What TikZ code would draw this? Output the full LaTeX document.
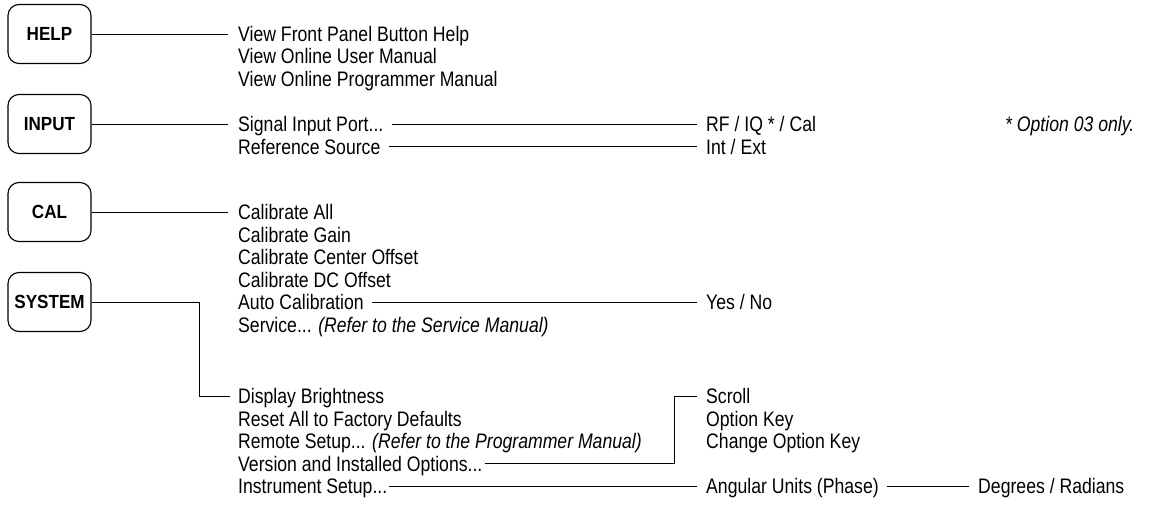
\documentclass[tikz,border=0pt]{standalone}
\usepackage{fontspec}
\setmainfont{Liberation Sans}[FakeStretch=0.84]
\newfontfamily\keyfam{Liberation Sans}[FakeStretch=0.9]
\usetikzlibrary{calc}
\begin{document}
\begin{tikzpicture}[x=1pt,y=-1pt,
  key/.style={draw, line width=1.1pt, rounded corners=11pt, minimum width=83pt,
    minimum height=59pt, inner sep=0pt, font=\keyfam\bfseries\fontsize{19}{20}\selectfont},
  item/.style={anchor=base west, inner sep=0pt, font=\fontsize{21}{22}\selectfont},
  conn/.style={line width=0.9pt}]
\useasboundingbox (0,0) rectangle (1155,508);
% keys
\node[key] (help) at (49.5,34) {HELP};
\node[key] (input) at (49.5,124) {INPUT};
\node[key] (cal) at (49.5,212) {CAL};
\node[key] (system) at (49.5,302) {SYSTEM};
% help items
\node[item] (h1) at (238,34+7.5) {View Front Panel Button Help};
\node[item] (h2) at (238,56.5+7.5) {View Online User Manual};
\node[item] (h3) at (238,79+7.5) {View Online Programmer Manual};
% input items
\node[item] (sip) at (238,124+7.5) {Signal Input Port...};
\node[item] (ref) at (238,146.5+7.5) {Reference Source};
\node[item] (rf) at (706,124+7.5) {RF / IQ * / Cal};
\node[item] (ie) at (706,146.5+7.5) {Int / Ext};
\node[item] (note) at (1005,124+7.5) {\itshape * Option 03 only.};
% cal items
\node[item] (c1) at (238,212+7.5) {Calibrate All};
\node[item] (c2) at (238,234.5+7.5) {Calibrate Gain};
\node[item] (c3) at (238,257+7.5) {Calibrate Center Offset};
\node[item] (c4) at (238,279.5+7.5) {Calibrate DC Offset};
\node[item] (auto) at (238,302+7.5) {Auto Calibration};
\node[item] (serv) at (238,324.5+7.5) {Service... \itshape(Refer to the Service Manual)};
\node[item] (yn) at (706,302+7.5) {Yes / No};
% system items
\node[item] (disp) at (238,396+7.5) {Display Brightness};
\node[item] (reset) at (238,418.5+7.5) {Reset All to Factory Defaults};
\node[item] (remote) at (238,441+7.5) {Remote Setup... \itshape(Refer to the Programmer Manual)};
\node[item] (ver) at (238,463.5+7.5) {Version and Installed Options...};
\node[item] (inst) at (238,486+7.5) {Instrument Setup...};
\node[item] (scroll) at (706,396+7.5) {Scroll};
\node[item] (okey) at (706,418.5+7.5) {Option Key};
\node[item] (cokey) at (706,441+7.5) {Change Option Key};
\node[item] (ang) at (706,486+7.5) {Angular Units (Phase)};
\node[item] (deg) at (978,486+7.5) {Degrees / Radians};
% connector end points
\coordinate (h1w) at ($(h1.base west)+(-10,-7.5)$);
\coordinate (sipw) at ($(sip.base west)+(-10,-7.5)$);
\coordinate (c1w) at ($(c1.base west)+(-10,-7.5)$);
\coordinate (dispw) at ($(disp.base west)+(-8,-7.5)$);
\coordinate (sysv) at ($(disp.base west)+(-39,-7.5)$);
\coordinate (verv) at ($(scroll.base west)+(-32,-7.5)$);
% connectors
\draw[conn] (help.east) -- (help.east -| h1w);
\draw[conn] (input.east) -- (input.east -| sipw);
\draw[conn] (cal.east) -- (cal.east -| c1w);
\draw[conn] (system.east) -| (sysv) -- (dispw);
\draw[conn] ($(sip.base east)+(8,-7.5)$) -- ($(rf.base west)+(-9,-7.5)$);
\draw[conn] ($(ref.base east)+(8,-7.5)$) -- ($(ie.base west)+(-9,-7.5)$);
\draw[conn] ($(auto.base east)+(8,-7.5)$) -- ($(yn.base west)+(-9,-7.5)$);
\draw[conn] ($(ver.base east)+(2,-7.5)$) -| (verv) -- ($(scroll.base west)+(-9,-7.5)$);
\draw[conn] ($(inst.base east)+(2,-7.5)$) -- ($(ang.base west)+(-9,-7.5)$);
\draw[conn] ($(ang.base east)+(8,-7.5)$) -- ($(deg.base west)+(-9,-7.5)$);
\end{tikzpicture}
\end{document}
